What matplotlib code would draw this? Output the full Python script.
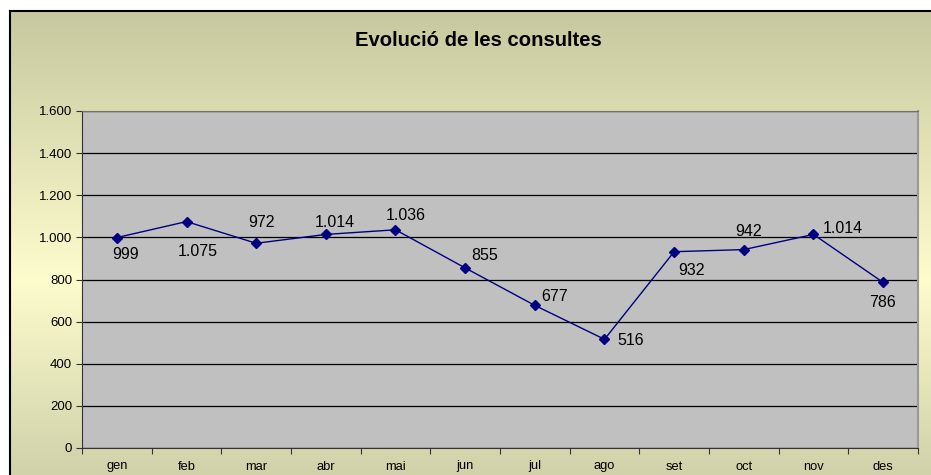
import matplotlib.pyplot as plt
import numpy as np
from matplotlib.ticker import FuncFormatter

plt.rcParams['font.family'] = ['Liberation Sans', 'DejaVu Sans']

months = ['gen', 'feb', 'mar', 'abr', 'mai', 'jun', 'jul', 'ago', 'set', 'oct', 'nov', 'des']
consultes = [999, 1075, 972, 1014, 1036, 855, 677, 516, 932, 942, 1014, 786]

# label offsets in pixels (dx right, dy down)
label_off = [(9, 17), (11, 30), (5, -21), (9, -12), (10, -14), (19, -12),
             (20, -9), (26, 1), (17, 19), (5, -18), (29, -6), (-1, 20)]

W, H = 931, 475
fig = plt.figure(figsize=(W / 100, H / 100), dpi=100)
fig.patch.set_facecolor('white')

# gradient background of the chart area
bg = fig.add_axes([10 / W, -0.05, 1.05, 1 - 11 / H + 0.05])
top = np.array([200, 200, 160]) / 255
mid = np.array([252, 252, 205]) / 255
bot = np.array([204, 204, 166]) / 255
t = np.linspace(0, 1, 256)[:, None]
grad = np.where(t < 0.55, top + (mid - top) * (t / 0.55), mid + (bot - mid) * ((t - 0.55) / 0.45))
bg.imshow(grad[:, None, :], aspect='auto', extent=[0, 1, 0, 1])
bg.set_xlim(0, 1)
bg.set_ylim(0, 1)
bg.set_xticks([])
bg.set_yticks([])
for s in ['right', 'bottom']:
    bg.spines[s].set_visible(False)
for s in ['left', 'top']:
    bg.spines[s].set_color('black')
    bg.spines[s].set_linewidth(1.5)

fig.text(478 / W, 1 - 41 / H, 'Evolució de les consultes', ha='center', va='center',
         fontsize=14.6, fontweight='bold')

ax = fig.add_axes([82 / W, 1 - 448 / H, 836 / W, 337 / H])
ax.set_facecolor('#c0c0c0')
x = np.arange(len(months)) + 0.5
ax.plot(x, consultes, color='#000080', lw=1, marker='D', markersize=5, zorder=3)

for xi, v, (dx, dy) in zip(x, consultes, label_off):
    txt = f'{v:,}'.replace(',', '.')
    ax.annotate(txt, (xi, v), xytext=(dx * 0.72, -dy * 0.72), textcoords='offset points',
                ha='center', va='center', fontsize=11.5, color='black', zorder=4)

ax.set_xlim(0, 12)
ax.set_ylim(0, 1600)
ax.set_yticks(range(0, 1601, 200))
ax.yaxis.set_major_formatter(FuncFormatter(lambda v, p: f'{int(v):,}'.replace(',', '.')))
ax.set_xticks(range(0, 13))
ax.set_xticklabels([])
ax.set_xticks(x, minor=True)
ax.set_xticklabels(months, minor=True)
ax.tick_params(axis='x', which='minor', length=0, labelsize=9.3, pad=9)
ax.tick_params(axis='x', which='major', length=4, direction='out', color='#333333')
ax.tick_params(axis='y', length=4, direction='out', labelsize=9.5, color='#333333', pad=3)
ax.grid(axis='y', color='black', lw=0.9)
ax.set_axisbelow(True)
ax.spines['left'].set_color('#333333')
ax.spines['bottom'].set_color('#333333')
ax.spines['top'].set_color('#707070')
ax.spines['right'].set_color('#999999')
ax.spines['right'].set_linewidth(1.5)

fig.savefig('out.png', dpi=100)
